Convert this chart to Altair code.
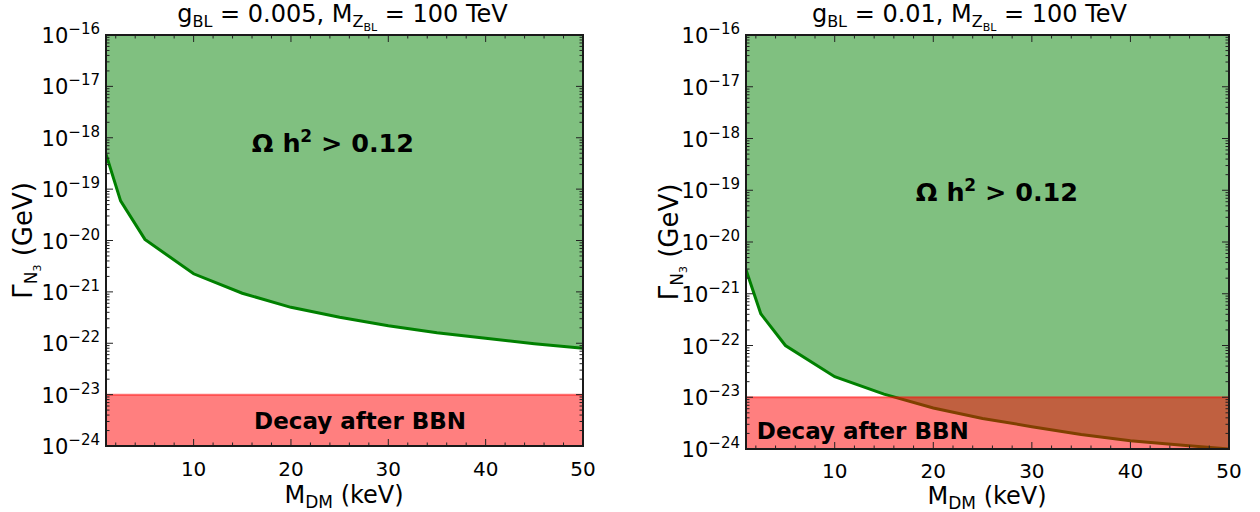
import altair as alt
import pandas as pd

FONT = "DejaVu Sans"

# Boundary of the Omega h^2 > 0.12 region: decay width of N3 (GeV) against DM mass (keV)
mass_keV = [1, 2.5, 5, 10, 15, 20, 25, 30, 35, 40, 45, 50]
gamma_g005 = [4.8e-19, 5.9e-20, 1.05e-20, 2.25e-21, 9.4e-22, 5.0e-22,
              3.2e-22, 2.2e-22, 1.6e-22, 1.25e-22, 9.8e-23, 8.0e-23]
gamma_g01 = [2.9e-21, 4.1e-22, 1.0e-22, 2.5e-23, 1.15e-23, 6.2e-24,
             3.9e-24, 2.7e-24, 1.9e-24, 1.45e-24, 1.2e-24, 1.0e-24]

# Widths below this bound decay after BBN
bbn_band = [1e-24, 1e-23]

x_range = [1, 50]
y_range = [1e-24, 1e-16]
x_major = [10, 20, 30, 40, 50]
x_minor = [v for v in range(2, 50, 2) if v % 10]
y_exponents = list(range(-24, -15))
y_major = [10.0 ** e for e in y_exponents]
y_minor = [m * 10.0 ** e for e in range(-24, -16) for m in range(2, 10)]

# DejaVu Sans advance widths (units per em = 2048), used to lay out mixed-size labels
ADV = {" ": 651, ".": 651, ",": 651, "=": 1716, "−": 1716, "(": 799, ")": 799,
       "g": 1300, "e": 1260, "k": 1186, "V": 1401, "G": 1577, "M": 1767, "B": 1405,
       "L": 1141, "Z": 1405, "T": 1251, "D": 1577, "N": 1532, "Γ": 1145}
for d in "0123456789":
    ADV[d] = 1303
# DejaVu Sans Bold advance widths
ADV_BOLD = {" ": 713, ".": 780, ">": 1716, "Ω": 1716, "h": 1456}
for d in "0123456789":
    ADV_BOLD[d] = 1425


def text_width(s, size, bold=False):
    table = ADV_BOLD if bold else ADV
    return sum(table.get(c, 1400) for c in s) / 2048 * size


ONE = alt.Data(values=[{}])


def fixed_text(text, x, y, size, dx=0.0, dy=0.0, angle=0, bold=False):
    props = dict(text=text, font=FONT, fontSize=size, align="left",
                 baseline="alphabetic", color="black", dx=dx, dy=dy,
                 fontWeight="bold" if bold else "normal")
    if angle:
        props["angle"] = angle
    return alt.Chart(ONE).mark_text(**props).encode(x=alt.value(x), y=alt.value(y))


def mixed_row(pieces, x, y, angle=0, bold=False):
    """Centered run of text pieces (text, size, lowering) sharing one baseline."""
    table = ADV_BOLD if bold else ADV
    total = sum(text_width(t, s, bold) for t, s, _ in pieces)
    off = -total / 2
    out = []
    for t, s, low in pieces:
        lead = len(t) - len(t.lstrip())
        out.append(fixed_text(t.strip(), x, y, s,
                              dx=off + lead * table[" "] / 2048 * s, dy=low,
                              angle=angle, bold=bold))
        off += text_width(t, s, bold)
    return out


def panel(gamma, coupling, W, H, omega_px, bbn_at, bbn_align, ytitle_x, title_shift,
          margin_left, tick_label_gap, xtitle_y):
    xs = alt.Scale(domain=x_range, nice=False, zero=False)
    ys = alt.Scale(type="log", domain=y_range, nice=False)

    def X(f):
        return alt.X(f, type="quantitative", scale=xs, axis=None)

    def Y(f):
        return alt.Y(f, type="quantitative", scale=ys, axis=None)

    layers = []

    # transparent backdrop reserving the margins around the plot area
    layers.append(alt.Chart(ONE).mark_rect(opacity=0).encode(
        x=alt.value(-margin_left), x2=alt.value(W + 31),
        y=alt.value(-35), y2=alt.value(H + 63)))

    curve = pd.DataFrame({"m": mass_keV, "g": gamma, "top": y_range[1]})
    layers.append(alt.Chart(curve).mark_area(color="#80c080", clip=True).encode(
        x=X("m"), y=Y("g"), y2="top"))
    layers.append(alt.Chart(curve).mark_line(color="#008000", strokeWidth=3, clip=True).encode(
        x=X("m"), y=Y("g")))

    band = pd.DataFrame({"x1": [x_range[0]], "x2": [x_range[1]],
                         "lo": [bbn_band[0]], "hi": [bbn_band[1]]})
    layers.append(alt.Chart(band).mark_rect(color="red", opacity=0.5).encode(
        x=X("x1"), x2="x2", y=Y("lo"), y2="hi"))
    layers.append(alt.Chart(band).mark_rule(color="red", opacity=0.5, strokeWidth=2).encode(
        x=X("x1"), x2="x2", y=Y("hi")))

    # inward ticks on all four sides
    tick_color = "#222222"
    for vals, ln in ((x_major, 7), (x_minor, 3.5)):
        d = pd.DataFrame({"v": vals})
        layers.append(alt.Chart(d).mark_rule(color=tick_color, strokeWidth=1).encode(
            x=X("v"), y=alt.value(H), y2=alt.value(H - ln)))
        layers.append(alt.Chart(d).mark_rule(color=tick_color, strokeWidth=1).encode(
            x=X("v"), y=alt.value(0), y2=alt.value(ln)))
    for vals, ln in ((y_major, 7), (y_minor, 3.5)):
        d = pd.DataFrame({"v": vals})
        layers.append(alt.Chart(d).mark_rule(color=tick_color, strokeWidth=1).encode(
            y=Y("v"), x=alt.value(0), x2=alt.value(ln)))
        layers.append(alt.Chart(d).mark_rule(color=tick_color, strokeWidth=1).encode(
            y=Y("v"), x=alt.value(W), x2=alt.value(W - ln)))

    # frame
    layers.append(alt.Chart(ONE).mark_rect(fillOpacity=0, stroke="#1a1a1a", strokeWidth=2).encode(
        x=alt.value(0), x2=alt.value(W), y=alt.value(0), y2=alt.value(H)))

    # y tick labels: 10 with a raised exponent
    ylab = pd.DataFrame({"v": y_major, "exp": [f"−{-e}" for e in y_exponents]})
    exp_w = text_width("−16", 15)
    layers.append(alt.Chart(ylab).mark_text(text="10", font=FONT, fontSize=21, align="right",
                                            baseline="alphabetic", dy=8, color="black").encode(
        y=Y("v"), x=alt.value(-6 - exp_w)))
    layers.append(alt.Chart(ylab).mark_text(font=FONT, fontSize=15, align="left",
                                            baseline="alphabetic", dy=-1, color="black").encode(
        y=Y("v"), x=alt.value(-6 - exp_w), text="exp:N"))

    # x tick labels
    xlab = pd.DataFrame({"v": x_major, "lab": [str(v) for v in x_major]})
    layers.append(alt.Chart(xlab).mark_text(font=FONT, fontSize=20, align="center",
                                            baseline="alphabetic", color="black").encode(
        x=X("v"), y=alt.value(H + tick_label_gap), text="lab:N"))

    # region annotations
    layers += mixed_row([("Ω h", 25.5, 0), ("2", 17, -10), (" > 0.12", 25.5, 0)],
                        omega_px[0], omega_px[1], bold=True)
    bb = pd.DataFrame({"m": [bbn_at[0]], "g": [bbn_at[1]]})
    layers.append(alt.Chart(bb).mark_text(text="Decay after BBN", font=FONT, fontSize=23,
                                          fontWeight="bold", align=bbn_align,
                                          baseline="middle", color="black").encode(
        x=X("m"), y=Y("g")))

    # titles with subscripts
    layers += mixed_row([("g", 24, 0), ("BL", 16, 5), (f" = {coupling}, M", 24, 0),
                         ("Z", 16, 5), ("BL", 11, 9), (" = 100 TeV", 24, 0)],
                        W / 2 + title_shift, -13)
    layers += mixed_row([("M", 24, 0), ("DM", 17, 5), (" (keV)", 24, 0)], W / 2, xtitle_y)
    layers += mixed_row([("Γ", 26, 0), ("N", 17, 5), ("3", 11, 9), (" (GeV)", 26, 0)],
                        ytitle_x, H / 2, angle=270)

    return alt.layer(*layers).properties(width=W, height=H)


left = panel(gamma_g005, "0.005", 477, 411,
             omega_px=(227, 117), bbn_at=(27.1, 2.95e-24), bbn_align="center",
             ytitle_x=-74, title_shift=0, margin_left=106, tick_label_gap=30, xtitle_y=468)
right = panel(gamma_g01, "0.01", 483, 414,
              omega_px=(251, 166), bbn_at=(2.1, 2.14e-24), bbn_align="left",
              ytitle_x=-68, title_shift=-16, margin_left=20, tick_label_gap=29, xtitle_y=469)

chart = alt.hconcat(left, right, spacing=163, bounds="flush").properties(
    padding=0, background="white"
).configure_view(stroke=None)

chart.save("out.html", embed_options={"renderer": "svg", "actions": False})
